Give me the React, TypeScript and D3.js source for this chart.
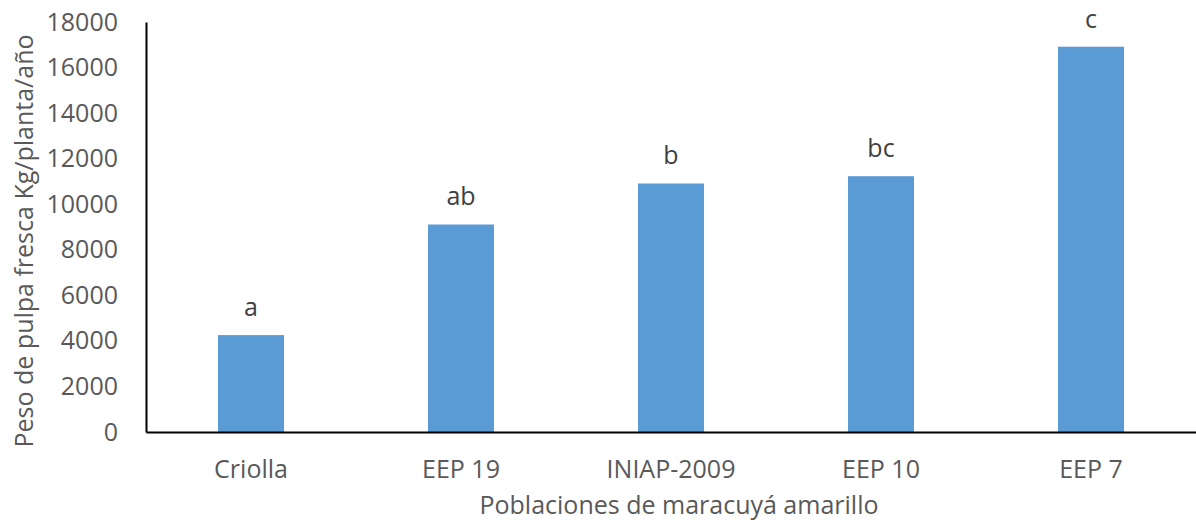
import * as d3 from 'd3';
import React, {useEffect, useRef} from 'react';

// data
const categories = ['Criolla', 'EEP 19', 'INIAP-2009', 'EEP 10', 'EEP 7'];
const values = [4255, 9110, 10910, 11230, 16915];
const letters = ['a', 'ab', 'b', 'bc', 'c'];
const yTicks = [0, 2000, 4000, 6000, 8000, 10000, 12000, 14000, 16000, 18000];

const W = 1196, H = 525;
const margin = {l: 146, r: 0, t: 22, b: 93};
const FONT = '"Open Sans", sans-serif';
const FS = '25px';

export default function App() {
    const ref = useRef<SVGSVGElement>(null);

    useEffect(() => {
        const svg = d3.select(ref.current);
        svg.selectAll('*').remove();

        const x = d3.scaleBand<string>()
            .domain(categories)
            .range([margin.l, W - margin.r])
            .paddingInner(0.6857)
            .paddingOuter(0.3429);
        const y = d3.scaleLinear().domain([0, 18000]).range([H - margin.b, margin.t]);

        // bars
        svg.append('g').selectAll('rect')
            .data(values)
            .enter().append('rect')
            .attr('x', (d, i) => x(categories[i]) as number)
            .attr('y', d => y(d))
            .attr('width', x.bandwidth())
            .attr('height', d => y(0) - y(d))
            .attr('fill', '#5B9BD5');

        // letters over bars
        svg.append('g').selectAll('text')
            .data(values)
            .enter().append('text')
            .attr('x', (d, i) => (x(categories[i]) as number) + x.bandwidth() / 2)
            .attr('y', d => y(d) - 19)
            .attr('text-anchor', 'middle')
            .style('font-family', FONT)
            .style('font-size', FS)
            .attr('fill', '#404040')
            .text((d, i) => letters[i]);

        // y axis
        const yAxis = d3.axisLeft(y).tickValues(yTicks).tickSize(0).tickPadding(28).tickFormat(d3.format('d'));
        const gy = svg.append('g').attr('transform', `translate(${margin.l},0)`).call(yAxis);
        gy.select('.domain').attr('stroke', '#000').attr('stroke-width', 2);
        gy.selectAll('.tick text')
            .style('font-family', FONT)
            .style('font-size', FS)
            .attr('fill', '#595959');

        // x axis
        const xAxis = d3.axisBottom(x).tickSize(0).tickPadding(28);
        const gx = svg.append('g').attr('transform', `translate(0,${y(0)})`).call(xAxis);
        gx.select('.domain').attr('stroke', '#000').attr('stroke-width', 2);
        gx.selectAll('.tick text')
            .style('font-family', FONT)
            .style('font-size', FS)
            .attr('fill', '#595959');

        // axis titles
        svg.append('text')
            .text('Poblaciones de maracuyá amarillo')
            .attr('x', 679)
            .attr('y', 514)
            .attr('text-anchor', 'middle')
            .style('font-family', FONT)
            .style('font-size', FS)
            .attr('fill', '#595959');

        svg.append('text')
            .text('Peso de pulpa fresca Kg/planta/año')
            .attr('transform', `translate(33,241) rotate(-90)`)
            .attr('text-anchor', 'middle')
            .style('font-family', FONT)
            .style('font-size', FS)
            .attr('fill', '#595959');
    }, []);

    return (
        <svg ref={ref} width={W} height={H}
             style={{position: 'absolute', left: 0, top: 0, background: '#fff'}} />
    );
}
